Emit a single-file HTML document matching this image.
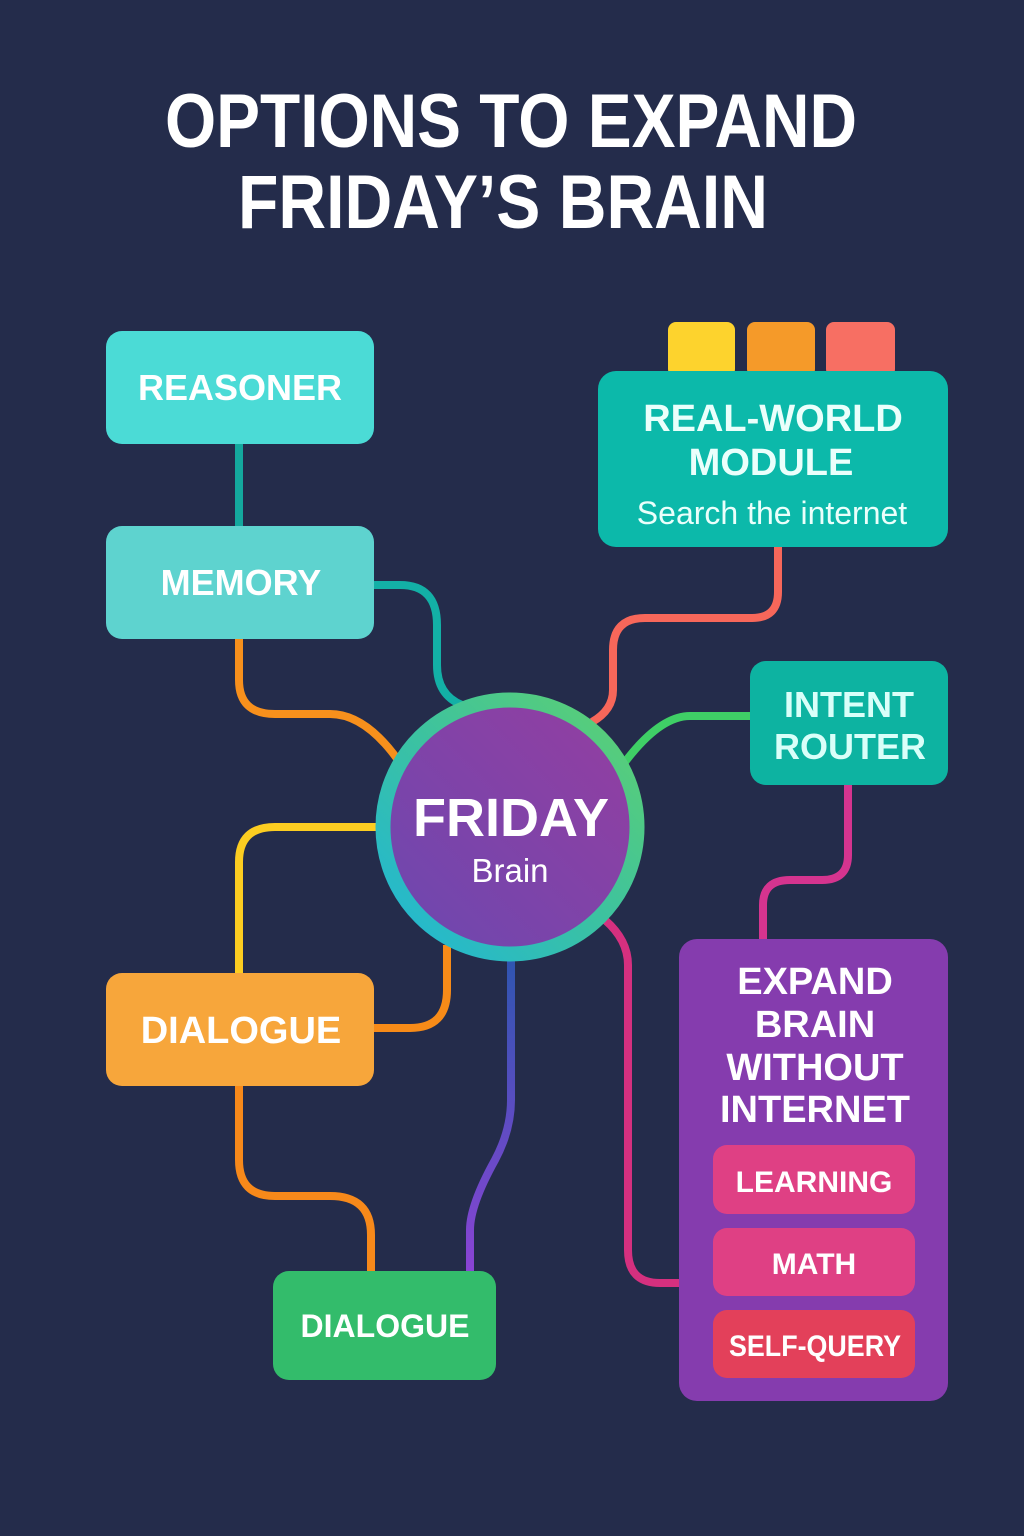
<!DOCTYPE html>
<html><head><meta charset="utf-8"><style>
html,body{margin:0;padding:0;background:#242c4b;}
svg{display:block}
text{font-family:"Liberation Sans",sans-serif;font-weight:bold;fill:#fff;text-anchor:middle}
text.n{font-weight:normal}
</style></head><body>
<svg width="1024" height="1536" viewBox="0 0 1024 1536" xmlns="http://www.w3.org/2000/svg">
<defs>
<linearGradient id="ring" x1="0" y1="1" x2="1" y2="0">
<stop offset="0" stop-color="#1fb6d8"/><stop offset="0.5" stop-color="#3cc2a0"/><stop offset="1" stop-color="#5fd070"/></linearGradient>
<linearGradient id="core" x1="0" y1="1" x2="1" y2="0">
<stop offset="0" stop-color="#6b48b0"/><stop offset="1" stop-color="#953ea0"/></linearGradient>
<linearGradient id="bp" x1="0" y1="0" x2="0" y2="1">
<stop offset="0" stop-color="#2f55b0"/><stop offset="1" stop-color="#8a44d4"/></linearGradient>
</defs>
<rect width="1024" height="1536" fill="#242c4b"/>
<text x="511" y="147" font-size="76" textLength="692" lengthAdjust="spacingAndGlyphs">OPTIONS TO EXPAND</text>
<text x="503" y="228" font-size="76" textLength="530" lengthAdjust="spacingAndGlyphs">FRIDAY’S BRAIN</text>

<g fill="none" stroke-width="8" stroke-linecap="butt">
<path d="M239 444 V526" stroke="#14a89e"/>
<path d="M374 585 H400 Q437 585 437 625 V665 Q437 695 462 705" stroke="#13b0a6"/>
<path d="M239 639 V680 Q239 714 275 714 H330 Q365 714 398 760" stroke="#f7901c"/>
<path d="M778 547 V592 Q778 618 752 618 H645 Q613 618 613 650 V690 Q613 710 592 722" stroke="#f7675a"/>
<path d="M750 716 H690 Q660 716 625 762" stroke="#3fcf66"/>
<path d="M848 785 V855 Q848 880 822 880 H790 Q763 880 763 905 V939" stroke="#d5348f"/>
<path d="M378 827 H275 Q239 827 239 862 V973" stroke="#fccd21"/>
<path d="M374 1028 H410 Q447 1028 447 990 V945" stroke="#f78b18"/>
<path d="M239 1086 V1160 Q239 1196 275 1196 H330 Q371 1196 371 1235 V1271" stroke="#f7891a"/>
<path d="M511 960 V1100 Q511 1130 495 1160 Q470 1205 470 1230 V1271" stroke="url(#bp)"/>
<path d="M605 920 Q628 940 628 965 V1250 Q628 1283 660 1283 H679" stroke="#d5307f"/>
</g>

<circle cx="510" cy="827" r="127" fill="url(#core)" stroke="url(#ring)" stroke-width="15"/>
<text x="511" y="836" font-size="54">FRIDAY</text>
<text class="n" x="510" y="882" font-size="33">Brain</text>

<rect x="106" y="331" width="268" height="113" rx="16" fill="#4bdbd6"/>
<text x="240" y="400" font-size="36">REASONER</text>
<rect x="106" y="526" width="268" height="113" rx="16" fill="#5ed3cf"/>
<text x="241" y="595" font-size="36">MEMORY</text>

<rect x="668" y="322" width="67" height="55" rx="8" fill="#fdd32d"/>
<rect x="747" y="322" width="68" height="55" rx="8" fill="#f59a29"/>
<rect x="826" y="322" width="69" height="55" rx="8" fill="#f76f63"/>
<rect x="598" y="371" width="350" height="176" rx="18" fill="#0cb9aa"/>
<text x="773" y="431" font-size="38" style="fill:#eafffb">REAL-WORLD</text>
<text x="771" y="475" font-size="38" style="fill:#eafffb">MODULE</text>
<text class="n" x="772" y="524" font-size="32" style="fill:#eafffb">Search the internet</text>

<rect x="750" y="661" width="198" height="124" rx="16" fill="#0db3a1"/>
<text x="849" y="717" font-size="36" style="fill:#d9fff9">INTENT</text>
<text x="850" y="759" font-size="36" style="fill:#d9fff9">ROUTER</text>

<rect x="679" y="939" width="269" height="462" rx="18" fill="#853cae"/>
<text x="815" y="994" font-size="38">EXPAND</text>
<text x="815" y="1037" font-size="38">BRAIN</text>
<text x="815" y="1080" font-size="38">WITHOUT</text>
<text x="815" y="1122" font-size="38">INTERNET</text>
<rect x="713" y="1145" width="202" height="69" rx="14" fill="#df4084"/>
<text x="814" y="1192" font-size="30">LEARNING</text>
<rect x="713" y="1228" width="202" height="68" rx="14" fill="#df4084"/>
<text x="814" y="1274" font-size="30">MATH</text>
<rect x="713" y="1310" width="202" height="68" rx="14" fill="#e3405a"/>
<text x="815" y="1356" font-size="30" textLength="172" lengthAdjust="spacingAndGlyphs">SELF-QUERY</text>

<rect x="106" y="973" width="268" height="113" rx="16" fill="#f7a63b"/>
<text x="241" y="1043" font-size="38">DIALOGUE</text>
<rect x="273" y="1271" width="223" height="109" rx="16" fill="#33bc6b"/>
<text x="385" y="1337" font-size="32">DIALOGUE</text>
</svg>
</body></html>
